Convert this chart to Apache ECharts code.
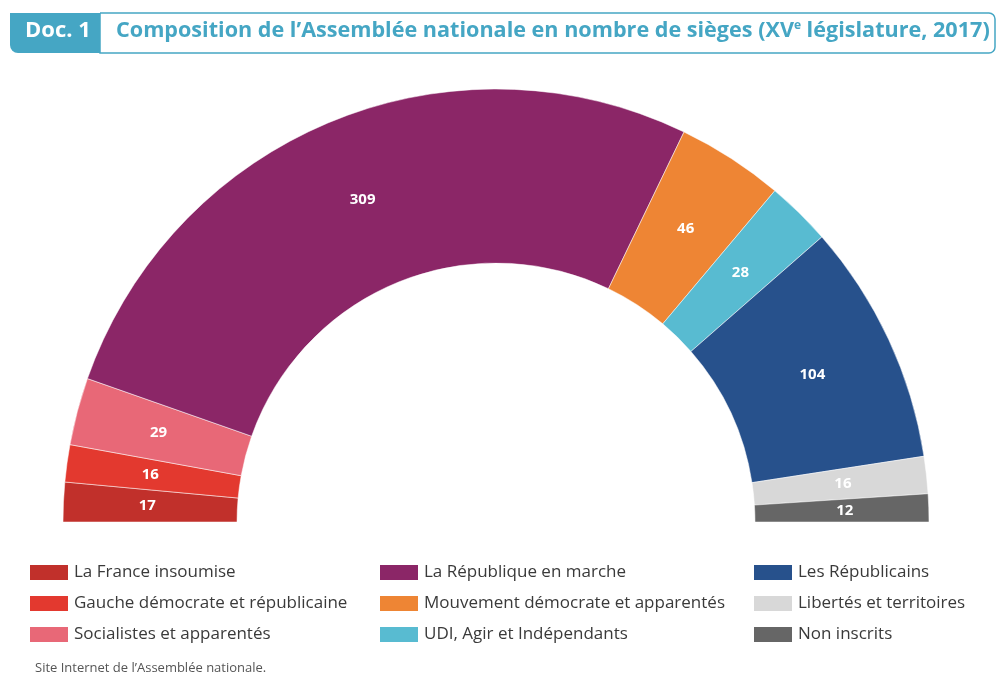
<!DOCTYPE html>
<html>
<head>
<meta charset="utf-8">
<script src="https://cdn.jsdelivr.net/npm/echarts@6/dist/echarts.min.js"></script>
<style>
html, body { margin: 0; padding: 0; background: #fff; }
#main { width: 1000px; height: 675px; }
</style>
</head>
<body>
<div id="main"></div>
<script>
// groupes, de gauche à droite dans l'hémicycle
var groupes = ['La France insoumise', 'Gauche démocrate et républicaine', 'Socialistes et apparentés',
	'La République en marche', 'Mouvement démocrate et apparentés', 'UDI, Agir et Indépendants',
	'Les Républicains', 'Libertés et territoires', 'Non inscrits'];
var sieges = [17, 16, 29, 309, 46, 28, 104, 16, 12];
var couleurs = ['#c1302b', '#e3392f', '#e86877', '#8b2667', '#ee8534', '#58bbd1', '#27518c', '#d8d8d8', '#666666'];

var data = [];
for (var i = 0; i < groupes.length; i++) {
	data.push({
		name: groupes[i],
		value: sieges[i],
		itemStyle: { color: couleurs[i] }
	});
}

var legendBase = {
	orient: 'vertical',
	itemWidth: 40,
	itemHeight: 17,
	itemGap: 12,
	icon: 'rect',
	selectedMode: false,
	textStyle: { fontFamily: 'Open Sans', fontSize: 17, color: '#3a3a3a' }
};
function legende(left, noms) {
	var l = echarts.util.clone(legendBase);
	l.left = left;
	l.top = 558;
	l.data = noms;
	return l;
}

var teal = '#45a6c4';
var myChart = echarts.init(document.getElementById('main'));
var option = {
	animation: false,
	graphic: [
		{ type: 'rect', shape: { x: 100, y: 13, width: 895, height: 40, r: [0, 6, 6, 0] },
			style: { fill: '#fff', stroke: teal, lineWidth: 1.5 } },
		{ type: 'rect', shape: { x: 10, y: 13, width: 90, height: 40, r: [0, 0, 0, 8] },
			style: { fill: teal } },
		{ type: 'text', left: 25, top: 20,
			style: { text: 'Doc. 1', fill: '#fff', fontFamily: 'Open Sans', fontWeight: 'bold', fontSize: 22 } },
		{ type: 'text', left: 116, top: 20,
			style: {
				text: '{t|Composition de l’Assemblée nationale en nombre de sièges (XV}{s|e}{t| législature, 2017)}',
				rich: {
					t: { fill: teal, fontFamily: 'Open Sans', fontWeight: 'bold', fontSize: 21.6 },
					s: { fill: teal, fontFamily: 'Open Sans', fontWeight: 'bold', fontSize: 12, verticalAlign: 'top', padding: [0, 0, 10, 0] }
				}
			} },
		{ type: 'text', left: 35, top: 662,
			style: { text: 'Site Internet de l’Assemblée nationale.', fill: '#555', fontFamily: 'Open Sans', fontSize: 13 } }
	],
	legend: [
		legende(23, groupes.slice(0, 3)),
		legende(373, groupes.slice(3, 6)),
		legende(747, groupes.slice(6, 9))
	],
	series: [{
		type: 'pie',
		center: [496, 522],
		radius: [259, 433],
		startAngle: 180,
		endAngle: 0,
		clockwise: true,
		avoidLabelOverlap: false,
		itemStyle: { borderColor: '#fff', borderWidth: 0.5 },
		label: {
			position: 'inside',
			formatter: '{c}',
			color: '#fff',
			fontFamily: 'Open Sans',
			fontWeight: 'bold',
			fontSize: 15
		},
		labelLine: { show: false },
		emphasis: { disabled: true },
		data: data
	}]
};
myChart.setOption(option);
</script>
</body>
</html>
